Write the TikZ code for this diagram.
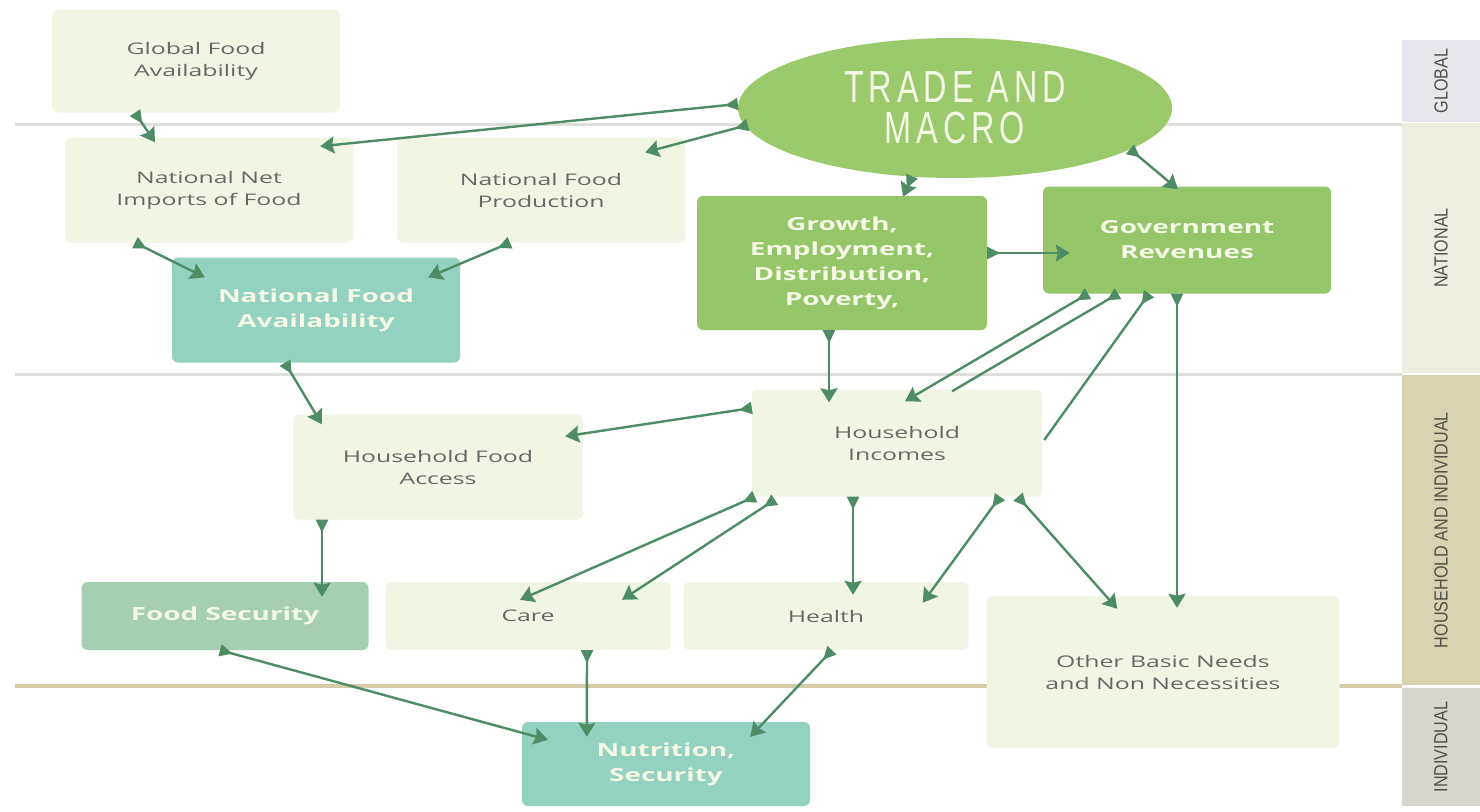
\documentclass[tikz,border=0pt]{standalone}
\usepackage{fontspec}
\usetikzlibrary{arrows.meta,shapes.geometric}
\newfontfamily\boxfont[FakeStretch=1.55]{Open Sans}
\newfontfamily\ovalfont[FakeStretch=0.72,LetterSpace=11]{Liberation Sans}
\newfontfamily\bandfont[FakeStretch=0.85]{Liberation Sans}
\definecolor{paleBox}{HTML}{F1F6E4}
\definecolor{leafGreen}{HTML}{95C66A}
\definecolor{ovalGreen}{HTML}{9ACA6C}
\definecolor{tealBox}{HTML}{93D1C0}
\definecolor{sageBox}{HTML}{A4CFB3}
\definecolor{linkGreen}{HTML}{4E8C66}
\definecolor{boxText}{HTML}{676767}
\definecolor{creamText}{HTML}{F4F8E4}
\definecolor{bandGlobal}{HTML}{E6E6EC}
\definecolor{bandNational}{HTML}{EEEDE0}
\definecolor{bandHouse}{HTML}{D9D2AE}
\definecolor{bandIndiv}{HTML}{D9D6CC}
\definecolor{bandText}{HTML}{505048}
\definecolor{ruleGray}{HTML}{DEDEDA}
\definecolor{ruleTan}{HTML}{D6CBA8}
\begin{document}
\begin{tikzpicture}[x=1pt,y=-1pt,
  pale/.style={rectangle,rounded corners=6pt,fill=paleBox,draw=none,
    text=boxText,align=center,inner sep=0pt,
    font=\boxfont\fontsize{16}{22}\selectfont},
  strong/.style={rectangle,rounded corners=6pt,draw=none,
    text=creamText,align=center,inner sep=0pt,
    font=\boxfont\fontsize{18}{25}\selectfont\bfseries},
  band/.style={rectangle,draw=none,inner sep=0pt,minimum width=78pt},
  bandlabel/.style={rotate=90,text=bandText,font=\bandfont\fontsize{19}{19}\selectfont},
  link/.style={draw=linkGreen,line width=2.4pt,
    {Triangle[reversed,width=12pt,length=13pt]}-{Stealth[width=17pt,length=14pt,inset=2pt]}},
  tailonly/.style={draw=linkGreen,line width=2.4pt,
    {Triangle[reversed,width=12pt,length=13pt]}-},
  rule/.style={line width=3pt,draw=ruleGray}]
\useasboundingbox (0,0) rectangle (1480,811);
\fill[white] (0,0) rectangle (1480,811);

% level bands on the right
\node[band,fill=bandGlobal,minimum height=82pt] (bglobal) at (1441,81) {};
\node[band,fill=bandNational,minimum height=250pt] (bnational) at (1441,248) {};
\node[band,fill=bandHouse,minimum height=310pt] (bhouse) at (1441,530) {};
\node[band,fill=bandIndiv,minimum height=118pt] (bindiv) at (1441,747) {};
\node[bandlabel] (lglobal) at (bglobal) {GLOBAL};
\node[bandlabel] (lnational) at (bnational) {NATIONAL};
\node[bandlabel] (lhouse) at (bhouse) {HOUSEHOLD AND INDIVIDUAL};
\node[bandlabel] (lindiv) at (bindiv) {INDIVIDUAL};

% level separators
\coordinate (r1a) at (15,124);  \coordinate (r1b) at (1402,124);
\coordinate (r2a) at (15,374);  \coordinate (r2b) at (1402,374);
\coordinate (r3a) at (15,686);  \coordinate (r3b) at (1402,686);
\draw[rule] (r1a) -- (r1b);
\draw[rule] (r2a) -- (r2b);
\draw[rule,draw=ruleTan,line width=4pt] (r3a) -- (r3b);

% boxes
\node[pale,minimum width=288pt,minimum height=103pt] (gfa) at (196,61) {Global Food\\Availability};
\node[pale,minimum width=288pt,minimum height=105pt] (nni) at (209,190) {National Net\\Imports of Food};
\node[pale,minimum width=288pt,minimum height=105pt] (nfp) at (541,190) {National Food\\Production};
\node[strong,fill=tealBox,minimum width=288pt,minimum height=105pt] (nfa) at (316,310) {National Food\\Availability};
\node[ellipse,fill=ovalGreen,minimum width=434pt,minimum height=140pt,inner sep=0pt,
  text=creamText,align=center,font=\ovalfont\fontsize{45}{41}\selectfont] (trade) at (955,108) {TRADE AND\\MACRO};
\node[strong,fill=leafGreen,minimum width=290pt,minimum height=134pt] (growth) at (842,263) {Growth,\\Employment,\\Distribution,\\Poverty,};
\node[strong,fill=leafGreen,minimum width=288pt,minimum height=107pt] (gov) at (1187,240) {Government\\Revenues};
\node[pale,minimum width=290pt,minimum height=107pt] (hhi) at (897,443) {Household\\Incomes};
\node[pale,minimum width=290pt,minimum height=105pt] (hfa) at (438,467) {Household Food\\Access};
\node[strong,fill=sageBox,minimum width=287pt,minimum height=68pt] (fs) at (225,616) {Food Security};
\node[pale,minimum width=285pt,minimum height=68pt] (care) at (528,616) {Care};
\node[pale,minimum width=285pt,minimum height=68pt] (health) at (826,616) {Health};
\node[pale,minimum width=353pt,minimum height=152pt] (other) at (1163,672) {Other Basic Needs\\and Non Necessities};
\node[strong,fill=tealBox,minimum width=288pt,minimum height=84pt] (nut) at (666,764) {Nutrition,\\Security};

% connectors
\draw[link] ([xshift=-61pt]gfa.south) -- ([xshift=-54pt,yshift=-5pt]nni.north);
\draw[link] ([yshift=4pt]trade.west) -- ([xshift=-33pt,yshift=-9pt]nni.north east);
\draw[link] ([xshift=10pt,yshift=-17pt]trade.west) -- ([xshift=-40pt,yshift=-15pt]nfp.north east);
\draw[link] ([xshift=-74pt]nni.south) -- ([xshift=33pt,yshift=-20pt]nfa.north west);
\draw[link] ([xshift=-31pt]nfp.south) -- ([xshift=-32pt,yshift=-20pt]nfa.north east);
\draw[link] ([xshift=-43pt,yshift=2pt]trade.south) -- ([xshift=61pt,yshift=-1pt]growth.north);
\draw[link] ([xshift=175pt,yshift=29pt]trade.south) -- ([xshift=-9pt,yshift=-3pt]gov.north);
\draw[link] ([yshift=10pt]growth.east) -- ([xshift=27pt,yshift=-13pt]gov.west);
\draw[link] ([xshift=-13pt]growth.south) -- ([xshift=-68pt,yshift=-13pt]hhi.north);
\draw[link] ([xshift=-99pt]gov.south) -- ([xshift=8pt,yshift=-12pt]hhi.north);
\draw[tailonly] ([xshift=-69pt]gov.south) -- ([xshift=55pt,yshift=-2pt]hhi.north);
\draw[tailonly] ([xshift=-38pt]gov.south) -- ([xshift=2pt,yshift=3pt]hhi.east);
\draw[link] ([xshift=-10pt]gov.south) -- ([xshift=14pt,yshift=-12pt]other.north);
\draw[link] ([yshift=35pt]hhi.west) -- ([xshift=-18pt,yshift=-22pt]hfa.north east);
\draw[link] ([xshift=3pt]hhi.south west) -- ([xshift=-8pt,yshift=-18pt]care.north);
\draw[link] ([xshift=23pt,yshift=-3pt]hhi.south west) -- ([xshift=94pt,yshift=-18pt]care.north);
\draw[link] ([xshift=-44pt]hhi.south) -- ([xshift=27pt,yshift=-13pt]health.north);
\draw[link] ([xshift=103pt]hhi.south) -- ([xshift=-46pt,yshift=-21pt]health.north east);
\draw[link] ([xshift=121pt]hhi.south) -- ([xshift=131pt,yshift=-13pt]other.north west);
\draw[link] ([xshift=-31pt]nfa.south) -- ([xshift=29pt,yshift=-10pt]hfa.north west);
\draw[link] ([xshift=-116pt]hfa.south) -- ([xshift=97pt,yshift=-15pt]fs.north);
\draw[link] ([xshift=-5pt]fs.south) -- ([xshift=26pt,yshift=-18pt]nut.north west);
\draw[link] ([xshift=59pt]care.south) -- ([xshift=65pt,yshift=-15pt]nut.north west);
\draw[link] ([xshift=6pt]health.south) -- ([xshift=-60pt,yshift=-15pt]nut.north east);
\end{tikzpicture}
\end{document}
